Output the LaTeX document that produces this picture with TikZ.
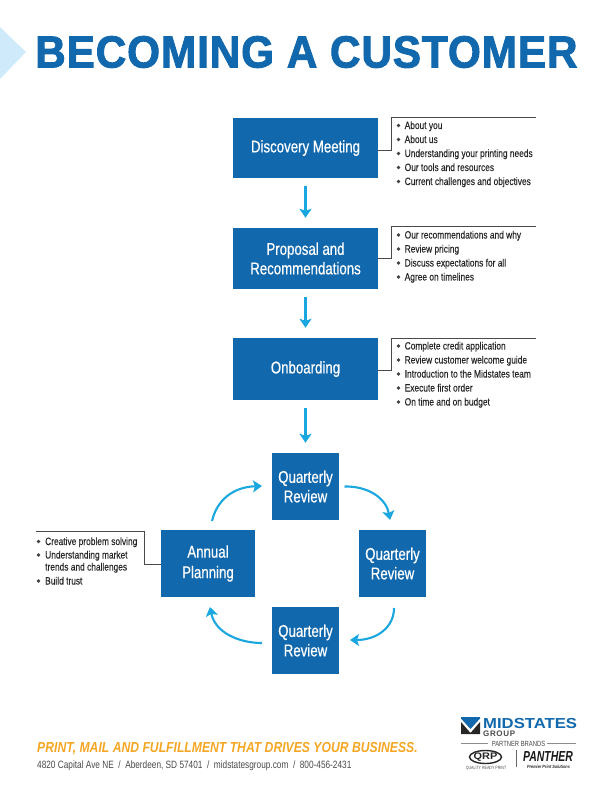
\documentclass[tikz,border=0pt]{standalone}
\usepackage{fontspec}
\setmainfont{Liberation Sans}
\newfontfamily\narrowf[FakeStretch=0.78]{Liberation Sans}
\newfontfamily\boxf[FakeStretch=0.78,FakeBold=0.5]{Liberation Sans}
\newfontfamily\listf[FakeStretch=0.79,FakeBold=0.15]{Liberation Sans}
\newfontfamily\titlef[FakeStretch=0.94,FakeBold=2,LetterSpace=2]{Liberation Sans Bold}
\newfontfamily\tagf[FakeStretch=0.84]{Liberation Sans Bold Italic}
\newfontfamily\panthf[FakeStretch=0.72]{Liberation Sans Bold Italic}
\newfontfamily\logof[FakeStretch=1.15]{Liberation Sans Bold}
\newfontfamily\groupf[LetterSpace=8]{Liberation Sans Bold}
\usetikzlibrary{arrows.meta}
\definecolor{mblue}{HTML}{1268AC}
\definecolor{marrow}{HTML}{1AA7E0}
\definecolor{mlight}{HTML}{CFEBFB}
\definecolor{morange}{HTML}{F5A623}
\definecolor{mgray}{HTML}{4A4A4A}
\tikzset{
 box/.style={fill=mblue,draw=none,inner sep=0pt,align=center,text=white,font=\boxf\fontsize{17}{19.5}\selectfont},
 flow/.style={draw=marrow,line width=2.1pt,-{Stealth[length=9pt,width=12pt,inset=2pt]}},
 bracket/.style={draw=mgray,line width=0.8pt},
 listline/.style={anchor=base west,inner sep=0pt,text=black!85,font=\listf\fontsize{10.6}{12}\selectfont},
 dot/.style={circle,fill=black!75,inner sep=0pt,minimum size=3.6pt},
}
\begin{document}
\begin{tikzpicture}[x=1pt,y=-1pt]
\useasboundingbox (0,0) rectangle (612,792);
% banner
\fill[mlight] (0,27) -- (26,52) -- (0,79) -- cycle;
\node[anchor=base west,inner sep=0pt,text=mblue,font=\titlef\fontsize{45}{50}\selectfont] (title) at (35,67.5) {BECOMING A CUSTOMER};
% boxes
\node[box,minimum width=145pt,minimum height=60pt] (disc) at (305.5,148) {Discovery Meeting};
\node[box,minimum width=145pt,minimum height=61pt] (prop) at (305.5,258.5) {Proposal and\\Recommendations};
\node[box,minimum width=145pt,minimum height=62pt] (onb) at (305.5,369) {Onboarding};
\node[box,minimum width=67pt,minimum height=67pt] (qt) at (305.5,486.5) {Quarterly\\Review};
\node[box,minimum width=67pt,minimum height=67pt] (qr) at (392.5,563.5) {Quarterly\\Review};
\node[box,minimum width=67pt,minimum height=67pt] (qb) at (305.5,640.5) {Quarterly\\Review};
\node[box,minimum width=94pt,minimum height=67pt] (ap) at (208,563.5) {Annual\\[1pt]Planning};
% straight arrows
\draw[flow,shorten <=8pt,shorten >=10pt] (disc) -- (prop);
\draw[flow,shorten <=8pt,shorten >=10pt] (prop) -- (onb);
\draw[flow,shorten <=8pt,shorten >=10pt] (onb) -- (qt);
% curved arrows
\coordinate (a1s) at (212,521); \coordinate (a1e) at (262,486);
\coordinate (a2s) at (344.5,486.5); \coordinate (a2e) at (390,520);
\coordinate (a3s) at (394,608); \coordinate (a3e) at (350,640);
\coordinate (a4s) at (262,643); \coordinate (a4e) at (210,607);
\draw[flow] (a1s) .. controls (217,500) and (233,487) .. (a1e);
\draw[flow] (a2s) .. controls (368,486) and (386,498) .. (a2e);
\draw[flow] (a3s) .. controls (394,628) and (376,640) .. (a3e);
\draw[flow] (a4s) .. controls (238,643) and (215,632) .. (a4e);
% callouts
\coordinate (c1a) at (536,117.5); \coordinate (c1b) at (391,117.5); \coordinate (c1c) at (391,150);
\draw[bracket] (c1a) -- (c1b) -- (c1c) -- (disc.east |- c1c);
\coordinate (c2a) at (536,226); \coordinate (c2b) at (391,226); \coordinate (c2c) at (391,258);
\draw[bracket] (c2a) -- (c2b) -- (c2c) -- (prop.east |- c2c);
\coordinate (c3a) at (536,338); \coordinate (c3b) at (391,338); \coordinate (c3c) at (391,370);
\draw[bracket] (c3a) -- (c3b) -- (c3c) -- (onb.east |- c3c);
\coordinate (c4a) at (36,531); \coordinate (c4b) at (144.5,531); \coordinate (c4c) at (144.5,564);
\draw[bracket] (c4a) -- (c4b) -- (c4c) -- (ap.west |- c4c);
% lists
\foreach \n/\yy/\t in {
 a1/125.5/About you, a2/139.5/About us, a3/153.5/Understanding your printing needs, a4/167.5/Our tools and resources, a5/181.5/Current challenges and objectives,
 b1/235/Our recommendations and why, b2/249/Review pricing, b3/263/Discuss expectations for all, b4/277/Agree on timelines,
 d1/346/Complete credit application, d2/360/Review customer welcome guide, d3/374/Introduction to the Midstates team, d4/388/Execute first order, d5/402/On time and on budget}{
 \node[dot] (dot\n) at (398.5,\yy) {};
 \node[listline] (li\n) at (404.5,\yy+3.5) {\t};
}
\foreach \n/\yy/\t in {e1/541.5/Creative problem solving, e2/555/Understanding market, e4/581/Build trust}{
 \node[dot] (dot\n) at (38.5,\yy) {};
 \node[listline] (li\n) at (45,\yy+3.5) {\t};
}
\node[listline] (lie3) at (45,570.5) {trends and challenges};
% footer
\node[anchor=base west,inner sep=0pt,text=morange,font=\tagf\fontsize{14.5}{16}\selectfont] (tag) at (37,752.5) {PRINT, MAIL AND FULFILLMENT THAT DRIVES YOUR BUSINESS.};
\node[anchor=base west,inner sep=0pt,text=mgray,font=\narrowf\fontsize{10.6}{12}\selectfont] (addr) at (37,768) {4820 Capital Ave NE\ \ /\ \ Aberdeen, SD 57401\ \ /\ \ midstatesgroup.com\ \ /\ \ 800-456-2431};
% logo
\fill[mblue] (461,717) -- (480,717) -- (480,718.5) -- (470.5,729) -- (461,718.5) -- cycle;
\fill[black!85] (461,722) -- (470.5,733) -- (480,722) -- (480,734) -- (461,734) -- cycle;
\node[anchor=base west,inner sep=0pt,text=mblue,font=\logof\fontsize{14.5}{16}\selectfont] (l1) at (483,728) {MIDSTATES};
\node[anchor=base west,inner sep=0pt,text=mgray,font=\groupf\fontsize{8}{9}\selectfont] (l2) at (483,736.5) {GROUP};
\node[inner sep=0pt,text=mgray,font=\narrowf\fontsize{7.5}{9}\selectfont] (l3) at (518.5,743.5) {PARTNER BRANDS};
\draw[black!45,line width=0.5pt] (461,743) -- (488,743) (547,743) -- (576,743);
\draw[black!85,line width=1.4pt] (485.5,757) ellipse (16pt and 6.5pt);
\node[inner sep=0pt,text=black!85,font=\logof\fontsize{9.5}{10}\selectfont] (l4) at (485.5,757) {QRP};
\node[inner sep=0pt,text=mgray,font=\narrowf\fontsize{4.6}{5}\selectfont] (l5) at (486,768) {QUALITY READY PRINT};
\draw[black!60,line width=0.5pt] (516.5,750) -- (516.5,767);
\node[anchor=base,inner sep=0pt,text=black!90,font=\panthf\fontsize{14.5}{15}\selectfont] (l6) at (548,761.5) {PANTHER};
\node[inner sep=0pt,text=black!85,font=\tagf\fontsize{4.6}{5}\selectfont] (l7) at (548.5,766.5) {Premier Print Solutions};
\end{tikzpicture}
\end{document}
